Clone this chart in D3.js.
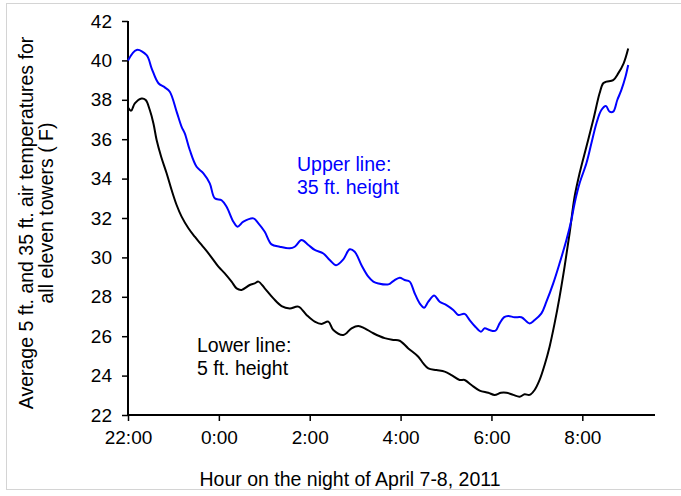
<!DOCTYPE html>
<html>
<head>
<meta charset="utf-8">
<script src="https://cdn.jsdelivr.net/npm/d3@7"></script>
<style>
  body { margin: 0; background: #fff; }
  text { font-family: "Liberation Sans", Arial, sans-serif; }
</style>
</head>
<body>
<svg id="chart" width="681" height="496"></svg>
<script>
    // hours after 22:00 on April 7
    var hoursUpper = [0, 0.19, 0.41, 0.52, 0.67, 0.81, 0.92, 1.07, 1.18, 1.25, 1.36, 1.51, 1.66, 1.80, 1.91,
        2.06, 2.17, 2.32, 2.41, 2.54, 2.76, 2.87, 3.01, 3.16, 3.34, 3.56, 3.67, 3.82, 3.97, 4.11, 4.30,
        4.44, 4.58, 4.74, 4.88, 4.99, 5.14, 5.29, 5.40, 5.51, 5.73, 5.84, 5.98, 6.09, 6.20, 6.31, 6.42,
        6.52, 6.61, 6.74, 6.86, 7.01, 7.16, 7.27, 7.41, 7.52, 7.63, 7.77, 7.85, 7.96, 8.09, 8.18, 8.28,
        8.37, 8.51, 8.66, 8.84, 8.95, 9.10, 9.21, 9.36, 9.50, 9.65, 9.76, 9.83, 9.94, 10.09, 10.20,
        10.31, 10.42, 10.52, 10.60, 10.68, 10.77, 10.86, 10.95, 11.01];
    var tempUpper = [40.0, 40.53, 40.27, 39.6, 38.84, 38.63, 38.41, 37.4, 36.63, 36.3, 35.45, 34.6, 34.27, 33.76, 33.0,
        32.9, 32.57, 31.81, 31.56, 31.81, 31.98, 31.73, 31.3, 30.66, 30.54, 30.46, 30.54, 30.88, 30.63, 30.38, 30.2,
        29.87, 29.6, 29.9, 30.41, 30.29, 29.6, 29.02, 28.77, 28.68, 28.63, 28.8, 28.97, 28.85, 28.77, 28.18, 27.67,
        27.45, 27.75, 28.06, 27.75, 27.58, 27.33, 27.08, 27.13, 26.82, 26.52, 26.23, 26.4, 26.31, 26.28, 26.65, 26.97,
        27.03, 26.96, 26.96, 26.65, 26.82, 27.16, 27.75, 28.68, 29.7, 30.88, 31.9, 32.74, 33.76, 34.78, 35.79,
        36.8, 37.48, 37.68, 37.4, 37.4, 37.99, 38.5, 39.17, 39.77];

    var hoursLower = [0, 0.07, 0.15, 0.30, 0.39, 0.48, 0.56, 0.63, 0.73, 0.85, 0.96, 1.07, 1.18, 1.33, 1.47,
        1.62, 1.80, 1.99, 2.13, 2.28, 2.39, 2.50, 2.68, 2.79, 2.87, 3.01, 3.20, 3.38, 3.56, 3.75, 3.93,
        4.11, 4.26, 4.41, 4.52, 4.74, 4.92, 5.07, 5.21, 5.40, 5.65, 5.84, 5.98, 6.17, 6.39, 6.50, 6.61,
        6.79, 6.97, 7.12, 7.30, 7.41, 7.56, 7.74, 7.93, 8.07, 8.21, 8.33, 8.48, 8.62, 8.73, 8.84, 8.95,
        9.06, 9.17, 9.28, 9.39, 9.50, 9.61, 9.72, 9.83, 9.94, 10.09, 10.24, 10.38, 10.46, 10.53, 10.68,
        10.79, 10.91, 11.01];
    var tempLower = [37.6, 37.45, 37.82, 38.07, 37.99, 37.48, 36.8, 35.96, 35.11, 34.27, 33.42, 32.66, 32.07, 31.48, 31.05,
        30.63, 30.12, 29.53, 29.19, 28.77, 28.43, 28.35, 28.6, 28.68, 28.77, 28.43, 27.92, 27.53, 27.41, 27.5, 27.08,
        26.74, 26.62, 26.74, 26.31, 26.06, 26.4, 26.52, 26.4, 26.15, 25.9, 25.81, 25.77, 25.38, 24.96, 24.62, 24.37,
        24.28, 24.2, 24.03, 23.78, 23.78, 23.52, 23.24, 23.13, 23.02, 23.13, 23.13, 23.02, 22.93, 23.05, 23.02, 23.27,
        23.78, 24.54, 25.47, 26.65, 28.0, 29.53, 31.22, 33.08, 34.27, 35.62, 36.97, 38.33, 38.84, 38.92, 39.0,
        39.34, 39.85, 40.6];

    var xTickHours = [0, 2, 4, 6, 8, 10];
    var xTickLabels = ["22:00", "0:00", "2:00", "4:00", "6:00", "8:00"];
    var yTicks = [22, 24, 26, 28, 30, 32, 34, 36, 38, 40, 42];

    var svg = d3.select("#chart");

    // light frame round the chart area
    svg.append("rect")
        .attr("x", 6.5).attr("y", 3.5)
        .attr("width", 700).attr("height", 486)
        .attr("fill", "none")
        .attr("stroke", "#d4d4d4");

    var x = d3.scaleLinear().domain([0, 11.6]).range([128, 655]);
    var y = d3.scaleLinear().domain([22, 42]).range([415, 21]);

    var xAxis = d3.axisBottom(x)
        .tickValues(xTickHours)
        .tickSize(6)
        .tickPadding(10)
        .tickFormat(function(d, i) { return xTickLabels[i]; });

    var yAxis = d3.axisLeft(y)
        .tickValues(yTicks)
        .tickSize(6)
        .tickPadding(10)
        .tickFormat(d3.format("d"));

    var gx = svg.append("g")
        .attr("transform", "translate(0," + y(22) + ")")
        .call(xAxis);

    var gy = svg.append("g")
        .attr("transform", "translate(" + x(0) + ",0)")
        .call(yAxis);

    [gx, gy].forEach(function(g) {
        g.select(".domain").attr("stroke", "#000").attr("stroke-width", 2);
        g.selectAll(".tick line").attr("stroke", "#000").attr("stroke-width", 1.5);
        g.selectAll(".tick text")
            .attr("fill", "#000")
            .style("font-size", "19px")
            .style("font-family", "'Liberation Sans', Arial, sans-serif");
    });
    // domain without the outer end ticks
    gx.select(".domain").attr("d", "M" + x(0) + ",0H" + x(11.6));
    gy.select(".domain").attr("d", "M0," + y(42) + "V" + y(22));

    function makeSeries(hours, temps) {
        return hours.map(function(h, i) { return { h: h, t: temps[i] }; });
    }

    var line = d3.line()
        .x(function(d) { return x(d.h); })
        .y(function(d) { return y(d.t); })
        .curve(d3.curveCatmullRom.alpha(0.5));

    svg.append("path")
        .datum(makeSeries(hoursLower, tempLower))
        .attr("d", line)
        .attr("fill", "none")
        .attr("stroke", "#000")
        .attr("stroke-width", 2);

    svg.append("path")
        .datum(makeSeries(hoursUpper, tempUpper))
        .attr("d", line)
        .attr("fill", "none")
        .attr("stroke", "#0000ff")
        .attr("stroke-width", 2);

    // annotations
    var upper = svg.append("text")
        .attr("fill", "#0000ff")
        .style("font-size", "19.5px");
    upper.append("tspan").attr("x", 297).attr("y", 171).text("Upper line:");
    upper.append("tspan").attr("x", 297).attr("y", 194).text("35 ft. height");

    var lower = svg.append("text")
        .attr("fill", "#000")
        .style("font-size", "19.5px");
    lower.append("tspan").attr("x", 197).attr("y", 352).text("Lower line:");
    lower.append("tspan").attr("x", 197).attr("y", 375).text("5 ft. height");

    // axis titles
    svg.append("text")
        .attr("x", 350).attr("y", 486)
        .attr("text-anchor", "middle")
        .style("font-size", "19.5px")
        .text("Hour on the night of April 7-8, 2011");

    svg.append("text")
        .attr("transform", "translate(33,223) rotate(-90)")
        .attr("text-anchor", "middle")
        .style("font-size", "19.5px")
        .text("Average 5 ft. and 35 ft. air temperatures for");

    svg.append("text")
        .attr("transform", "translate(53,213) rotate(-90)")
        .attr("text-anchor", "middle")
        .style("font-size", "19.5px")
        .text("all eleven towers ( F)");
</script>
</body>
</html>
